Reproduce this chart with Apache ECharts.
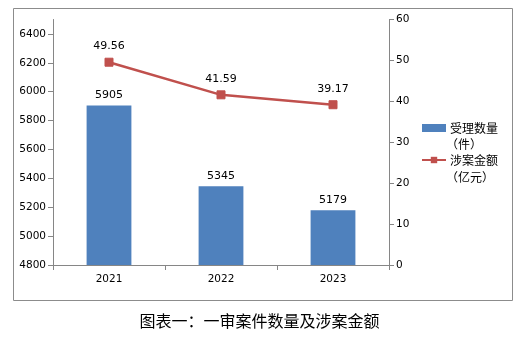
<!DOCTYPE html>
<html><head><meta charset="utf-8">
<script src="https://cdn.jsdelivr.net/npm/echarts@6/dist/echarts.min.js"></script>
<style>html,body{margin:0;padding:0;background:#fff}#c{width:519px;height:338px}</style>
</head><body><div id="c"></div>
<script>
const categories = ['2021', '2022', '2023'];
const caseCounts = [5905, 5345, 5179];
const amounts = [49.56, 41.59, 39.17];
const leftTicks = {min: 4800, max: 6500, interval: 200};
const rightTicks = {min: 0, max: 60, interval: 10};
const seriesNames = ['受理数量', '涉案金额'];
const legendSub = ['（件）', '（亿元）'];
const title = '图表一：一审案件数量及涉案金额';

const font = '"DejaVu Sans", Verdana, sans-serif';
const cjk = '"Noto Sans CJK SC", sans-serif';
const axisLineStyle = {color: '#868686', width: 1};
const plain = v => String(v);
const chart = echarts.init(document.getElementById('c'));
chart.setOption({
  animation: false,
  backgroundColor: '#fff',
  grid: {left: 53, right: 130, top: 19.5, bottom: 73},
  legend: {
    orient: 'vertical', left: 421, top: 122, padding: 0,
    itemWidth: 24, itemHeight: 8, itemGap: 20,
    textStyle: {fontFamily: cjk, fontSize: 12, color: '#000', padding: [0,0,0,-1]},
    data: [{name: seriesNames[0], icon: 'rect'}, {name: seriesNames[1]}]
  },
  graphic: [
    {type: 'rect', left: 11, top: 6, shape: {width: 499, height: 292}, style: {fill: 'none', stroke: '#8c8c8c', lineWidth: 1}},
    {type: 'text', left: 446, top: 138, style: {text: legendSub[0], font: '12px ' + cjk, fill: '#000'}},
    {type: 'text', left: 446, top: 171, style: {text: legendSub[1], font: '12px ' + cjk, fill: '#000'}},
    {type: 'text', left: 'center', top: 313, style: {text: title, font: '16px ' + cjk, fill: '#000'}}
  ],
  xAxis: {
    type: 'category', data: categories,
    axisLine: {lineStyle: axisLineStyle},
    axisTick: {show: true, lineStyle: axisLineStyle, length: 5},
    axisLabel: {fontFamily: font, fontSize: 10.5, color: '#000', margin: 9}
  },
  yAxis: [
    {type: 'value', min: leftTicks.min, max: leftTicks.max, interval: leftTicks.interval,
     axisLine: {show: true, lineStyle: axisLineStyle},
     axisTick: {show: true, lineStyle: axisLineStyle, length: 5},
     splitLine: {show: false},
     axisLabel: {fontFamily: font, fontSize: 10.5, color: '#000', margin: 7, showMaxLabel: false, formatter: plain}},
    {type: 'value', min: rightTicks.min, max: rightTicks.max, interval: rightTicks.interval, position: 'right',
     axisLine: {show: true, lineStyle: axisLineStyle},
     axisTick: {show: true, lineStyle: axisLineStyle, length: 5},
     splitLine: {show: false},
     axisLabel: {fontFamily: font, fontSize: 10.5, color: '#000', margin: 7, formatter: plain}}
  ],
  series: [
    {name: seriesNames[0], type: 'bar', data: caseCounts, yAxisIndex: 0, barWidth: '40%',
     itemStyle: {color: '#4F81BD'},
     label: {show: true, position: 'top', distance: 5, fontFamily: font, fontSize: 11, color: '#000'}},
    {name: seriesNames[1], type: 'line', data: amounts, yAxisIndex: 1,
     symbol: 'rect', symbolSize: 8,
     lineStyle: {color: '#C0504D', width: 2.5}, itemStyle: {color: '#C0504D', borderColor: '#C0504D'},
     label: {show: true, position: 'top', distance: 6, fontFamily: font, fontSize: 11, color: '#000'}}
  ]
});
</script></body></html>
